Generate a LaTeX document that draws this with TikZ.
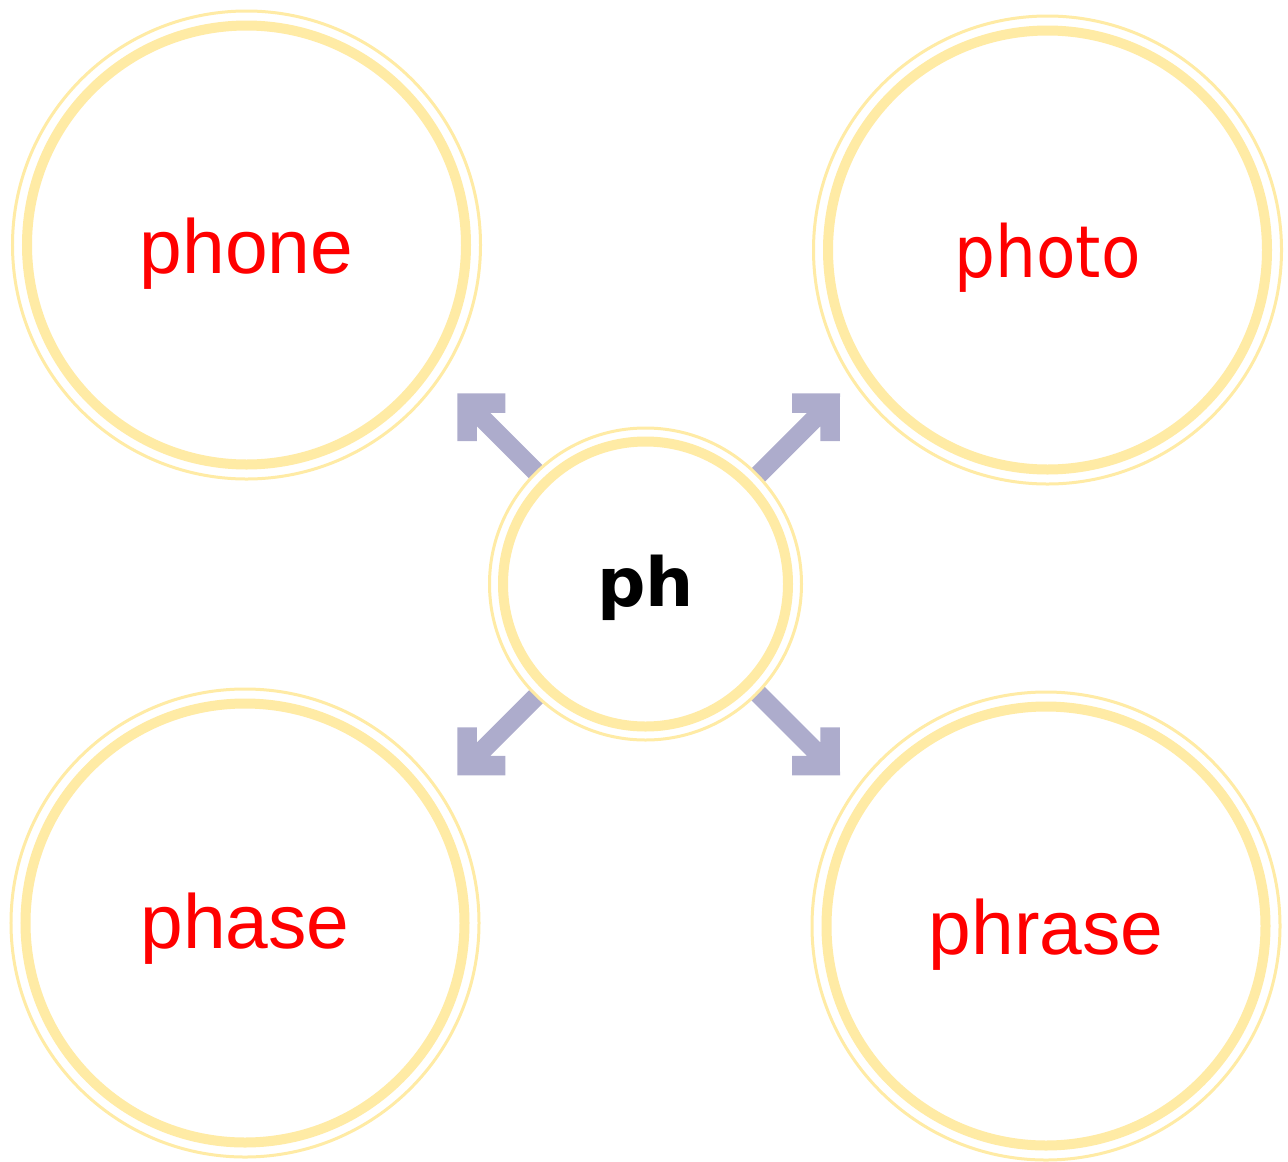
\documentclass[tikz,border=0pt]{standalone}
\usepackage{fontspec}
\setmainfont{Liberation Sans}
\newfontfamily\tahomalike{DejaVu Sans Condensed}
\newfontfamily\hubfont{DejaVu Sans}
\usetikzlibrary{calc}
\definecolor{ringc}{RGB}{255,235,165}
\definecolor{arrowc}{RGB}{173,172,204}
\definecolor{wordc}{RGB}{255,0,0}
\tikzset{
  bigring/.style={circle, draw=ringc, line width=3bp, fill=white, minimum size=468bp, inner sep=0pt,
    text=wordc, font=\fontsize{77}{80}\selectfont, text depth=0pt},
  hubring/.style={circle, draw=ringc, line width=3bp, fill=white, minimum size=312bp, inner sep=0pt,
    font=\hubfont\bfseries\fontsize{68}{72}\selectfont, text depth=0pt},
  thickring/.style={draw=ringc, line width=10bp},
  blockarrow/.style={fill=arrowc, draw=none}
}
% #1 tip coordinate, #2 x sign, #3 y sign (direction of the arms from the tip)
\newcommand{\pharrowhead}[3]{%
  \fill[blockarrow] (#1) -- ++(#2*48,0) -- ++(0,#3*19.5) -- ++(-#2*15,0)
    -- ++(#2*150,#3*150) -- ++(-#2*13.4,#3*13.4) -- ++(-#2*150,-#3*150)
    -- ++(0,#3*15) -- ++(-#2*19.5,0) -- cycle;}
\begin{document}
\begin{tikzpicture}[x=1bp,y=-1bp]
\useasboundingbox (0,0) rectangle (1288,1162);
% arrow tips
\coordinate (tnw) at (457.3,393.3);
\coordinate (tne) at (840,393.3);
\coordinate (tsw) at (457.3,775.3);
\coordinate (tse) at (840,775.3);
\pharrowhead{tnw}{1}{1}
\pharrowhead{tne}{-1}{1}
\pharrowhead{tsw}{1}{-1}
\pharrowhead{tse}{-1}{-1}
% hub
\node[hubring, text height=44bp] (hub) at (645.5,584) {ph};
\draw[thickring] (hub.center) circle (142.5bp);
% outer words
\node[bigring, text height=56bp] (phone) at (246.5,245) {phone};
\draw[thickring] (phone.center) circle (219.5bp);
\node[bigring, text height=54bp, font=\tahomalike\fontsize{72}{76}\selectfont] (photo) at (1047.5,250) {photo};
\draw[thickring] (photo.center) circle (219.5bp);
\node[bigring, text height=50bp] (phase) at (245,923) {phase};
\draw[thickring] (phase.center) circle (219.5bp);
\node[bigring, text height=56bp] (phrase) at (1046,926) {phrase};
\draw[thickring] (phrase.center) circle (219.5bp);
\end{tikzpicture}
\end{document}
